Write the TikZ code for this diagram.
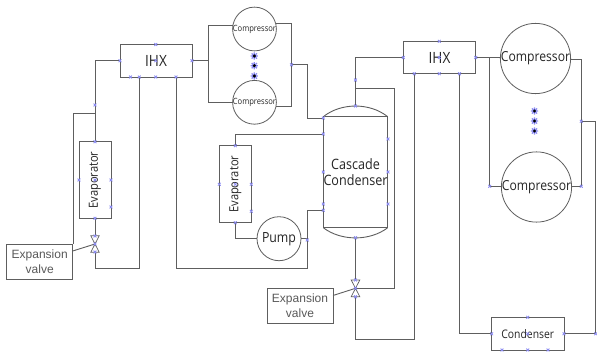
\documentclass[tikz,border=0pt]{standalone}
\usepackage{graphicx}
\usepackage{fontspec}
\setmainfont[FakeStretch=0.88]{Open Sans}
\newfontfamily\helv{Liberation Sans}
\definecolor{ln}{HTML}{5E5E5E}
\definecolor{port}{HTML}{8C8CF2}
\tikzset{
  x=1pt,y=-1pt,
  pipe/.style={draw=ln,line width=.9pt},
  box/.style={draw=ln,line width=.9pt,rectangle,inner sep=0pt,outer sep=0pt,text=black!85},
  circ/.style={draw=ln,line width=.8pt,circle,inner sep=0pt,outer sep=0pt,text=black!85},
  note/.style={box,font=\helv\fontsize{12}{15}\selectfont,text=black!65,align=center},
  portmark/.pic={\draw[port,line width=.8pt] (-1.4,-1.4)--(1.4,1.4) (-1.4,1.4)--(1.4,-1.4);},
  dotmark/.pic={\draw[port,line width=1.3pt] (-3.6,0)--(3.6,0) (0,-3.6)--(0,3.6) (-2.6,-2.6)--(2.6,2.6) (-2.6,2.6)--(2.6,-2.6);\fill[black] (0,0) circle (1.7);}
}
\begin{document}
\begin{tikzpicture}
\useasboundingbox (0,0) rectangle (597,351);
\fill[white] (0,0) rectangle (597,351);
% components
\node[box,minimum width=72pt,minimum height=32.5pt,font=\fontsize{15.5}{17}\selectfont] (ihxa) at (156,60.7) {IHX};
\node[box,minimum width=72.4pt,minimum height=32.4pt,font=\fontsize{15.5}{17}\selectfont] (ihxb) at (439.5,57.5) {IHX};
\node[circ,minimum size=43pt,font=\fontsize{8.6}{10}\selectfont] (ca) at (254.5,29) {Compressor};
\node[circ,minimum size=43.6pt,font=\fontsize{8.6}{10}\selectfont] (cb) at (254.5,102.3) {Compressor};
\node[circ,minimum size=69pt,font=\fontsize{13.8}{16}\selectfont] (cc) at (535.5,58.5) {Compressor};
\node[circ,minimum size=69pt,font=\fontsize{13.8}{16}\selectfont] (cd) at (536.5,187) {Compressor};
\node[box,minimum width=32pt,minimum height=76.6pt,font=\fontsize{12.6}{14}\selectfont] (eva) at (95,180) {\rotatebox{90}{Evaporator}};
\node[box,minimum width=32pt,minimum height=77pt,font=\fontsize{12.6}{14}\selectfont] (evb) at (235.3,184.2) {\rotatebox{90}{Evaporator}};
\node[circ,minimum size=44pt,font=\fontsize{14}{16}\selectfont] (pump) at (279,238.7) {Pump};
\node[box,minimum width=64.4pt,minimum height=111pt,font=\fontsize{14.3}{16.5}\selectfont,align=center] (cas) at (355.5,172.2) {Cascade\\Condenser};
\node[box,minimum width=72.3pt,minimum height=33pt,font=\fontsize{11.8}{13}\selectfont] (cond) at (527.8,333.8) {Condenser};
\node[note,minimum width=66pt,minimum height=35.3pt] (noa) at (39.7,261.7) {Expansion\\valve};
\node[note,minimum width=66pt,minimum height=35.3pt] (nob) at (300,305.7) {Expansion\\valve};
% domes of the condenser
\coordinate (domet) at (355.5,106);
\coordinate (domeb) at (355.5,237.7);
\draw[pipe] (cas.north west) .. controls (341,102.5) and (370,102.5) .. (cas.north east);
\draw[pipe] (cas.south west) .. controls (341,241.3) and (370,241.3) .. (cas.south east);
% valves
\coordinate (va) at (95,244);
\coordinate (vat) at (95,235.7);
\coordinate (vab) at (95,252.3);
\coordinate (vb) at (355.5,288.3);
\coordinate (vbt) at (355.5,280);
\coordinate (vbb) at (355.5,296.7);
\draw[draw=ln,line width=.7pt] (va)--(90.8,235.7)--(99.2,235.7)--cycle (va)--(90.8,252.3)--(99.2,252.3)--cycle;
\draw[draw=ln,line width=.7pt] (vb)--(351.2,280)--(359.8,280)--cycle (vb)--(351.2,296.7)--(359.8,296.7)--cycle;
% low stage
\coordinate (ja) at (95,113.3);
\coordinate (jb) at (73.7,113.3);
\coordinate (jc) at (73.7,244);
\coordinate (pa) at (139.3,77);
\coordinate (pb) at (176,77);
\coordinate (pc) at (139.3,268.3);
\coordinate (pd) at (95,268.3);
\coordinate (pe) at (176,268.3);
\coordinate (pf) at (307.3,268.3);
\coordinate (pg) at (307.3,238.7);
\coordinate (ph) at (307.3,210.3);
\coordinate (pi) at (323.3,210.3);
\draw[pipe] (ihxa.west) -| (eva.north);
\draw[pipe] (ja) -- (jb) -- (jc);
\draw[pipe] (eva.south) -- (vat);
\draw[pipe] (vab) -- (pd) -- (pc) -- (pa);
\draw[pipe] (pb) -- (pe) -- (pf) -- (ph) -- (pi);
\draw[pipe] (pump.east) -- (pg);
\draw[pipe] (noa.east |- 0,251) -- (va);
% low-stage compressors
\coordinate (qa) at (208.5,60.7);
\coordinate (qb) at (208.5,25);
\coordinate (qc) at (233.3,25);
\coordinate (qd) at (208.5,102);
\coordinate (qe) at (233.3,102);
\coordinate (ra) at (276,23.5);
\coordinate (rb) at (291.5,23.5);
\coordinate (rc) at (291.5,106);
\coordinate (rd) at (276,106);
\coordinate (re) at (291.5,64.7);
\coordinate (rf) at (307.5,64.7);
\coordinate (rg) at (307.5,118);
\coordinate (rh) at (323.3,118);
\draw[pipe] (ihxa.east) -- (qa);
\draw[pipe] (qc) -- (qb) -- (qd) -- (qe);
\draw[pipe] (ra) -- (rb) -- (rc) -- (rd);
\draw[pipe] (re) -- (rf) -- (rg) -- (rh);
% evaporator and pump loop
\coordinate (sa) at (323.3,134);
\coordinate (sb) at (235.3,134);
\coordinate (sc) at (235.3,238.7);
\draw[pipe] (sa) -- (sb) -- (evb.north);
\draw[pipe] (evb.south) -- (sc) -- (pump.west);
% high stage
\coordinate (ta) at (355.5,57.5);
\coordinate (tb) at (355.5,88.3);
\coordinate (tc) at (394.3,88.3);
\coordinate (td) at (394.3,288.3);
\coordinate (ua) at (414.3,73.7);
\coordinate (ub) at (414.3,339.3);
\coordinate (uc) at (355.5,339.3);
\coordinate (va2) at (459.5,73.7);
\coordinate (vb2) at (459.5,333.8);
\draw[pipe] (ihxb.west) -- (ta) -- (domet);
\draw[pipe] (tb) -- (tc) -- (td) -- (vb);
\draw[pipe] (domeb) -- (vbt);
\draw[pipe] (vbb) -- (uc) -- (ub) -- (ua);
\draw[pipe] (va2) -- (vb2) -- (cond.west);
\draw[pipe] (nob.east |- 0,295.5) -- (vb);
% high-stage compressors
\coordinate (wa) at (489.7,57.5);
\coordinate (wb) at (489.7,186.3);
\coordinate (wc) at (502.3,186.3);
\coordinate (xa) at (569.5,59);
\coordinate (xb) at (581.3,59);
\coordinate (xc) at (581.3,186.3);
\coordinate (xd) at (570.7,186.3);
\coordinate (xe) at (581.3,121.3);
\coordinate (xf) at (595.7,121.3);
\coordinate (xg) at (595.7,333.8);
\draw[pipe] (ihxb.east) -- (501,57.5);
\draw[pipe] (wa) -- (wb) -- (wc);
\draw[pipe] (xa) -- (xb) -- (xc) -- (xd);
\draw[pipe] (xe) -- (xf) -- (xg) -- (cond.east);
% stacked dots
\foreach \p in {(254.3,56),(254.3,65.7),(254.3,76),(534.5,111),(534.5,121),(534.5,131)}
  \pic at \p {dotmark};
% connection point marks
\foreach \p in {(155.7,44.5),(120,60.7),(192,60.7),(155.7,60.7),(130.5,77),(139.3,77),(155.7,77),(176,77),
  (95,105),(95,141.7),(79,180),(95,180),(111,180),(111,207),(95,218.3),(95,236),(95,244),(95,252),
  (235.3,145.7),(219.3,184.3),(251.3,184.3),(235.3,184.3),(251.3,211.3),(235.3,222.7),(291.5,64.7),
  (439.3,41.3),(403.3,57.5),(439.3,57.5),(475.7,57.5),(414.3,73.7),(439.3,73.7),(459.5,73.7),
  (355.5,80),(355.5,106),(323.3,118),(323.3,134),(323.3,172),(388,139),(388,172),(323.3,204),(388,204),(323.3,210.3),
  (355.5,237.7),(307.3,240),(355.5,280),(355.5,288.3),(355.5,296.7),
  (581.3,121.3),(489.7,186.3),(581.3,186.3),
  (527.7,317.3),(491.7,333.8),(527.7,333.8),(564,333.8),(595.7,333.8),(502,350),(527.7,350),(548,350)}
  \pic at \p {portmark};
\end{tikzpicture}
\end{document}
